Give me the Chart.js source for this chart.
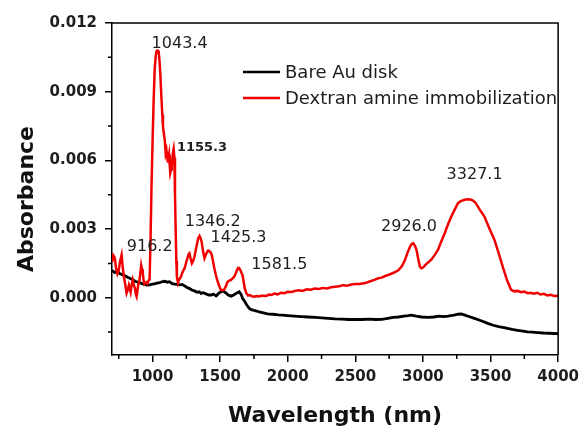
<!DOCTYPE html>
<html><head><meta charset="utf-8">
<script src="https://cdn.jsdelivr.net/npm/chart.js@4"></script>
<style>html,body{margin:0;padding:0;background:#fff}</style>
</head><body>
<canvas id="c" width="585" height="428"></canvas>
<script>
const seriesNames = ['Bare Au disk', 'Dextran amine immobilization'];

const dextranX = [
 700,710,720,730,740,750,760,771,780,790,
 800,808,817,825,832,838,845,853,862,870,
 876,882,888,895,903,910,916,922,928,934,
 940,948,955,962,970,978,985,992,1000,1008,
 1016,1024,1030,1038,1045,1052,1058,1065,1072,1077,
 1083,1090,1097,1103,1108,1114,1118,1122,1127,1131,
 1137,1143,1150,1156,1162,1166,1171,1176,1180,1188,
 1195,1203,1212,1224,1237,1249,1261,1267,1273,1282,
 1291,1300,1310,1320,1330,1338,1347,1355,1363,1373,
 1384,1394,1404,1412,1420,1430,1438,1447,1457,1470,
 1482,1494,1506,1518,1530,1542,1555,1568,1580,1592,
 1604,1614,1624,1633,1641,1650,1658,1665,1674,1682,
 1694,1707,1720,1735,1751,1770,1790,1810,1830,1849,
 1862,1880,1900,1925,1950,1975,2000,2030,2055,2082,
 2110,2140,2170,2200,2230,2260,2290,2320,2352,2380,
 2410,2440,2470,2500,2530,2573,2610,2640,2670,2695,
 2720,2745,2770,2793,2818,2845,2867,2885,2904,2918,
 2928,2940,2952,2965,2977,2989,3001,3020,3040,3063,
 3085,3112,3135,3161,3185,3210,3235,3259,3280,3308,
 3330,3357,3375,3393,3420,3455,3490,3529,3560,3590,
 3620,3651,3675,3700,3725,3750,3775,3796,3820,3845,
 3870,3895,3920,3945,3970,3994,4000
];
const dextranAbs = [
 0.00155,0.00185,0.00175,0.00130,0.00105,0.00120,0.00160,0.00187,0.00130,0.00085,
 0.00050,0.00020,0.00035,0.00055,0.00040,0.00025,0.00055,0.00078,0.00055,0.00040,
 0.00015,0.00005,0.00030,0.00060,0.00075,0.00110,0.00142,0.00125,0.00105,0.00075,
 0.00060,0.00065,0.00068,0.00062,0.00075,0.00080,0.00250,0.00480,0.00680,0.00860,
 0.01000,0.01060,0.01078,0.01080,0.01075,0.01030,0.00970,0.00880,0.00800,0.00750,
 0.00720,0.00690,0.00630,0.00645,0.00620,0.00590,0.00610,0.00625,0.00580,0.00545,
 0.00560,0.00580,0.00630,0.00650,0.00610,0.00450,0.00297,0.00160,0.00092,0.00065,
 0.00078,0.00085,0.00095,0.00115,0.00129,0.00155,0.00180,0.00190,0.00194,0.00170,
 0.00150,0.00160,0.00180,0.00210,0.00238,0.00260,0.00270,0.00260,0.00245,0.00205,
 0.00173,0.00188,0.00200,0.00206,0.00204,0.00198,0.00187,0.00160,0.00129,0.00095,
 0.00070,0.00050,0.00034,0.00032,0.00036,0.00050,0.00070,0.00075,0.00078,0.00085,
 0.00092,0.00105,0.00120,0.00130,0.00129,0.00120,0.00108,0.00100,0.00070,0.00041,
 0.00020,0.00010,0.00012,0.00006,0.00005,0.00008,0.00006,0.00010,0.00008,0.00010,
 0.00014,0.00012,0.00018,0.00015,0.00022,0.00020,0.00026,0.00025,0.00030,0.00033,
 0.00030,0.00037,0.00035,0.00040,0.00038,0.00043,0.00041,0.00046,0.00048,0.00050,
 0.00055,0.00053,0.00058,0.00060,0.00060,0.00064,0.00072,0.00078,0.00085,0.00088,
 0.00095,0.00100,0.00106,0.00112,0.00120,0.00138,0.00165,0.00195,0.00223,0.00236,
 0.00238,0.00228,0.00210,0.00170,0.00136,0.00129,0.00132,0.00145,0.00155,0.00167,
 0.00185,0.00210,0.00245,0.00282,0.00320,0.00355,0.00385,0.00413,0.00422,0.00428,
 0.00430,0.00428,0.00422,0.00412,0.00385,0.00355,0.00305,0.00253,0.00195,0.00136,
 0.00080,0.00036,0.00028,0.00030,0.00024,0.00027,0.00020,0.00022,0.00018,0.00022,
 0.00014,0.00017,0.00010,0.00013,0.00008,0.00009,0.00008
];

const bareX = [
 700,720,740,759,780,800,815,832,850,870,
 890,906,925,945,960,979,1000,1020,1040,1053,
 1070,1090,1110,1126,1145,1163,1180,1200,1220,1237,
 1255,1274,1290,1310,1330,1345,1359,1375,1395,1415,
 1433,1450,1470,1490,1506,1520,1540,1560,1580,1600,
 1620,1641,1655,1668,1678,1695,1714,1730,1751,1770,
 1789,1820,1850,1890,1930,1960,2000,2050,2100,2150,
 2205,2250,2300,2350,2400,2450,2500,2550,2600,2650,
 2695,2740,2780,2818,2860,2890,2915,2950,2990,3038,
 3080,3120,3150,3185,3230,3260,3283,3310,3340,3381,
 3420,3450,3479,3520,3560,3600,3626,3660,3700,3740,
 3774,3810,3850,3890,3930,3970,4000
];
const bareAbs = [
 0.00120,0.00110,0.00115,0.00105,0.00100,0.00095,0.00090,0.00085,0.00080,0.00072,
 0.00068,0.00066,0.00060,0.00058,0.00055,0.00056,0.00060,0.00062,0.00065,0.00066,
 0.00070,0.00072,0.00068,0.00070,0.00062,0.00060,0.00058,0.00056,0.00058,0.00052,
 0.00045,0.00040,0.00034,0.00030,0.00024,0.00026,0.00019,0.00022,0.00017,0.00012,
 0.00012,0.00016,0.00008,0.00020,0.00026,0.00030,0.00022,0.00012,0.00007,0.00012,
 0.00020,0.00026,0.00015,-0.00005,-0.00012,-0.00030,-0.00046,-0.00052,-0.00055,-0.00058,
 -0.00062,-0.00066,-0.00070,-0.00072,-0.00075,-0.00076,-0.00078,-0.00080,-0.00082,-0.00084,
 -0.00086,-0.00088,-0.00090,-0.00092,-0.00093,-0.00095,-0.00094,-0.00095,-0.00093,-0.00095,
 -0.00094,-0.00090,-0.00086,-0.00084,-0.00080,-0.00078,-0.00076,-0.00080,-0.00084,-0.00086,
 -0.00084,-0.00080,-0.00082,-0.00080,-0.00076,-0.00072,-0.00071,-0.00076,-0.00082,-0.00090,
 -0.00098,-0.00105,-0.00112,-0.00120,-0.00126,-0.00130,-0.00134,-0.00138,-0.00142,-0.00146,
 -0.00149,-0.00150,-0.00152,-0.00154,-0.00155,-0.00156,-0.00157
];

const xTickValues = [1000, 1500, 2000, 2500, 3000, 3500, 4000];
const xMinorValues = [750, 1250, 1750, 2250, 2750, 3250, 3750];
const yTickValues = [0, 0.003, 0.006, 0.009, 0.012];
const yMinorValues = [-0.0015, 0.0015, 0.0045, 0.0075, 0.0105];
const xTitle = 'Wavelength (nm)';
const yTitle = 'Absorbance';

const peakTexts = ['916.2', '1043.4', '1155.3', '1346.2', '1425.3', '1581.5', '2926.0', '3327.1'];
const peakAnchors = [[979,0.00223],[1200,0.01111],[1180,0.00657],[1445,0.00333],[1636,0.00260],[1938,0.00143],[2897,0.00311],[3382,0.00537]];

const RED = '#f00000', BLACK = '#000000', TEXT = '#1e1e1e';

const deco = {
  id: 'deco',
  afterDraw(chart) {
    const {ctx, chartArea: a, scales: {x, y}} = chart;
    ctx.save();
    ctx.strokeStyle = '#000'; ctx.lineWidth = 1.5;
    ctx.beginPath();
    ctx.moveTo(a.left, a.top); ctx.lineTo(a.right, a.top); ctx.lineTo(a.right, a.bottom);
    ctx.stroke();
    ctx.beginPath();
    xMinorValues.forEach(v => { const p = x.getPixelForValue(v); ctx.moveTo(p, a.bottom); ctx.lineTo(p, a.bottom + 4); });
    yMinorValues.forEach(v => { const p = y.getPixelForValue(v); ctx.moveTo(a.left, p); ctx.lineTo(a.left - 4, p); });
    ctx.stroke();

    ctx.fillStyle = TEXT;
    ctx.textBaseline = 'middle';
    peakTexts.forEach((t, i) => {
      const px = x.getPixelForValue(peakAnchors[i][0]);
      const py = y.getPixelForValue(peakAnchors[i][1]);
      if (t === '1155.3') { ctx.font = 'bold 13px "DejaVu Sans"'; ctx.textAlign = 'left'; }
      else { ctx.font = '16px "DejaVu Sans"'; ctx.textAlign = 'center'; }
      ctx.fillText(t, px, py);
    });

    const legendColors = [BLACK, RED];
    ctx.font = '18px "DejaVu Sans"'; ctx.textAlign = 'left'; ctx.textBaseline = 'middle';
    seriesNames.forEach((n, i) => {
      const ly = a.top + 49 + i * 26;
      ctx.strokeStyle = legendColors[i]; ctx.lineWidth = 2.5;
      ctx.beginPath(); ctx.moveTo(a.left + 131, ly); ctx.lineTo(a.left + 168, ly); ctx.stroke();
      ctx.fillStyle = TEXT;
      ctx.fillText(n, a.left + 173, ly + 1);
    });

    ctx.fillStyle = '#111';
    ctx.font = 'bold 22px "DejaVu Sans"';
    ctx.textAlign = 'center'; ctx.textBaseline = 'alphabetic';
    ctx.fillText(xTitle, (a.left + a.right) / 2, 422);
    ctx.translate(33, 199); ctx.rotate(-Math.PI / 2);
    ctx.fillText(yTitle, 0, 0);
    ctx.restore();
  }
};

const tickFont = {family: 'DejaVu Sans', weight: 'bold', size: 15};

new Chart(document.getElementById('c'), {
  type: 'line',
  data: {
    datasets: [
      {label: seriesNames[1], data: dextranX.map((v, i) => ({x: v, y: dextranAbs[i]})), borderColor: RED, borderWidth: 2.5, pointRadius: 0, tension: 0, fill: false},
      {label: seriesNames[0], data: bareX.map((v, i) => ({x: v, y: bareAbs[i]})), borderColor: BLACK, borderWidth: 2.8, pointRadius: 0, tension: 0, fill: false}
    ]
  },
  options: {
    responsive: false, animation: false, devicePixelRatio: 1,
    layout: {padding: {top: 23, right: 24, left: 0, bottom: 0}},
    plugins: {legend: {display: false}, tooltip: {enabled: false}},
    scales: {
      x: {
        type: 'linear', min: 700, max: 4000,
        afterFit: s => { s.height = 73; },
        afterBuildTicks: s => { s.ticks = xTickValues.map(v => ({value: v})); },
        grid: {drawOnChartArea: false, drawTicks: true, tickLength: 7, color: '#000', lineWidth: 1.5},
        border: {display: true, color: '#000', width: 1.5},
        ticks: {font: tickFont, color: TEXT, padding: 6, maxRotation: 0, callback: v => String(v)}
      },
      y: {
        type: 'linear', min: -0.0025, max: 0.012,
        afterFit: s => { s.width = 112; },
        afterBuildTicks: s => { s.ticks = yTickValues.map(v => ({value: v})); },
        grid: {drawOnChartArea: false, drawTicks: true, tickLength: 7, color: '#000', lineWidth: 1.5},
        border: {display: true, color: '#000', width: 1.5},
        ticks: {font: tickFont, color: TEXT, padding: 8, callback: v => v.toFixed(3)}
      }
    }
  },
  plugins: [deco]
});
</script>
</body></html>
